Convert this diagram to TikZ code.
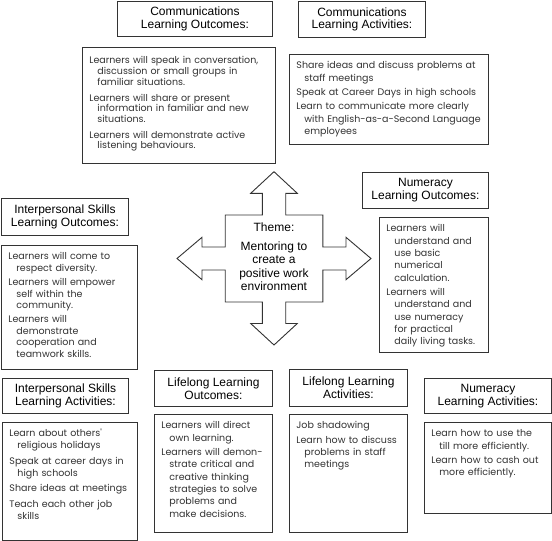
\documentclass[tikz,border=0pt]{standalone}
\usepackage{fontspec}
\setmainfont{Liberation Sans}
\newfontfamily\bodyfont{Poppins}
\usepackage{tikz}
\usetikzlibrary{positioning}
\tikzset{
    titlebox/.style 2 args={rectangle, draw=black!80, line width=0.9pt, fill=white, anchor=north west, inner sep=0pt, align=center, minimum width=#1, minimum height=#2, font=\fontsize{12}{12.8}\selectfont},
    bodybox/.style 2 args={rectangle, draw=black!80, line width=0.9pt, fill=white, anchor=north west, inner xsep=7pt, inner ysep=4pt, align=left, text width=#1, text height=10.5pt, text depth=#2, text=black!80, font=\bodyfont\fontsize{9.5}{12.3}\selectfont},
    crossarrow/.style={draw=black!80, line width=0.9pt, fill=white}
}
% one item with hanging lines
\newcommand{\litem}[2][2pt]{\hangindent=8pt\hangafter=1 #2\par\vspace{#1}}

\begin{document}
\begin{tikzpicture}[x=1pt, y=-1pt]
    \useasboundingbox (0,0) rectangle (552,541);

    % Theme (centre cross)
    \draw[crossarrow] (274,171.7) -- (297.3,193.3) -- (285.7,193.3) -- (285.7,215) -- (322.8,215)
        -- (322.8,247) -- (346,247) -- (346,237.3) -- (371,258.5) -- (346,279.7) -- (346,270)
        -- (322.8,270) -- (322.8,302) -- (285.7,302) -- (285.7,323.5) -- (297.3,323.5) -- (274,345)
        -- (250.7,323.5) -- (262.3,323.5) -- (262.3,302) -- (225.2,302) -- (225.2,270) -- (202,270)
        -- (202,279.7) -- (177,258.5) -- (202,237.3) -- (202,247) -- (225.2,247) -- (225.2,215)
        -- (262.3,215) -- (262.3,193.3) -- (250.7,193.3) -- cycle;
    \node[align=center, font=\fontsize{12}{13.5}\selectfont] (theme) at (274,257) {Theme:\\[5pt] Mentoring to\\ create a\\ positive work\\ environment};

    % Communications
    \node[titlebox={155pt}{35pt}] (cot) at (117,1) {Communications\\ Learning Outcomes:};
    \node[bodybox={179pt}{95.5pt}, text height=12.5pt, font=\bodyfont\fontsize{9.5}{10.7}\selectfont] (cob) at (82,47) {%
        \litem[5pt]{Learners will speak in conversation,\newline discussion or small groups in\newline familiar situations.}
        \litem[5pt]{Learners will share or present\newline information in familiar and new\newline situations.}
        \litem[5pt]{Learners will demonstrate active\newline listening behaviours.}};
    \node[titlebox={127pt}{36pt}] (cat) at (298,1) {Communications\\ Learning Activities:};
    \node[bodybox={185pt}{71.5pt}] (cab) at (289,54) {%
        \litem{Share ideas and discuss problems at\newline staff meetings}
        \litem{Speak at Career Days in high schools}
        \litem{Learn to communicate more clearly\newline with English-as-a-Second Language\newline employees}};

    % Interpersonal skills
    \node[titlebox={127pt}{37pt}] (iot) at (1,198) {Interpersonal Skills\\ Learning Outcomes:};
    \node[bodybox={122pt}{105.5pt}, font=\bodyfont\fontsize{9.5}{11.7}\selectfont] (iob) at (1,245) {%
        \litem{Learners will come to\newline respect diversity.}
        \litem{Learners will empower\newline self within the\newline community.}
        \litem{Learners will\newline demonstrate\newline cooperation and\newline teamwork skills.}};
    \node[titlebox={126pt}{35pt}] (iat) at (2,378) {Interpersonal Skills\\ Learning Activities:};
    \node[bodybox={121pt}{99.5pt}, font=\bodyfont\fontsize{9.5}{11.7}\selectfont] (iab) at (2,422) {%
        \litem[4pt]{Learn about others'\newline religious holidays}
        \litem[4pt]{Speak at career days in\newline high schools}
        \litem[4pt]{Share ideas at meetings}
        \litem[4pt]{Teach each other job\newline skills}};

    % Numeracy
    \node[titlebox={126pt}{36pt}] (not) at (362,172) {Numeracy\\ Learning Outcomes:};
    \node[bodybox={95pt}{116.5pt}] (nob) at (379,217) {%
        \litem{Learners will\newline understand and\newline use basic\newline numerical\newline calculation.}
        \litem{Learners will\newline understand and\newline use numeracy\newline for practical\newline daily living tasks.}};
    \node[titlebox={127pt}{35pt}] (nat) at (424,378) {Numeracy\\ Learning Activities:};
    \node[bodybox={113pt}{72.5pt}] (nab) at (424,422) {%
        \litem{Learn how to use the\newline till more efficiently.}
        \litem{Learn how to cash out\newline more efficiently.}};

    % Lifelong learning
    \node[titlebox={118pt}{36pt}] (lot) at (154,370) {Lifelong Learning\\ Outcomes:};
    \node[bodybox={104pt}{99.5pt}] (lob) at (154,414) {%
        \litem{Learners will direct\newline own learning.}
        \litem{Learners will demon-\newline strate critical and\newline creative thinking\newline strategies to solve\newline problems and\newline make decisions.}};
    \node[titlebox={118pt}{37pt}] (lat) at (289,369) {Lifelong Learning\\ Activities:};
    \node[bodybox={104pt}{99.5pt}] (lab) at (289,414) {%
        \litem{Job shadowing}
        \litem{Learn how to discuss\newline problems in staff\newline meetings}};
\end{tikzpicture}
\end{document}
